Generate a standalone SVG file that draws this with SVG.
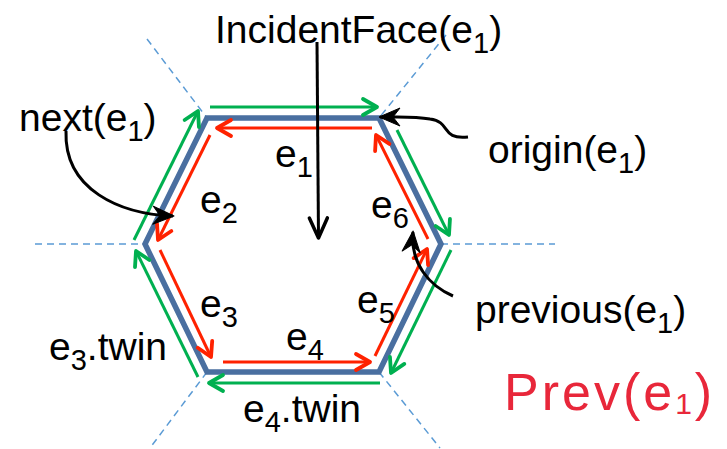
<svg xmlns="http://www.w3.org/2000/svg" width="727" height="449" viewBox="0 0 727 449">
<style>
.lbl{font-family:"Liberation Sans",Arial,sans-serif;font-size:39px;fill:#000}
.sub{font-size:29px}
.dash{stroke:#5b9bd5;stroke-width:1.5;stroke-dasharray:7 5;fill:none}
.hex{stroke:#4a6fa0;stroke-width:5.5;fill:none;stroke-linejoin:miter}
.red{stroke:#ff2200;stroke-width:3;fill:none;marker-end:url(#ar)}
.grn{stroke:#00b050;stroke-width:3;fill:none;marker-end:url(#ag)}
.blk{stroke:#000;stroke-width:3;fill:none}
.hand{font-family:"Liberation Sans",Arial,sans-serif;font-size:52px;fill:#e8273a;letter-spacing:3px}
</style>
<defs>
<marker id="ar" viewBox="-20 -12 24 24" refX="0" refY="0" markerWidth="24" markerHeight="24" markerUnits="userSpaceOnUse" orient="auto">
<path d="M-14,-8 L0,0 L-14,8" fill="none" stroke="#ff2200" stroke-width="3.8" stroke-linecap="round" stroke-linejoin="round"/>
</marker>
<marker id="ag" viewBox="-20 -12 24 24" refX="0" refY="0" markerWidth="24" markerHeight="24" markerUnits="userSpaceOnUse" orient="auto">
<path d="M-14,-8 L0,0 L-14,8" fill="none" stroke="#00b050" stroke-width="3.8" stroke-linecap="round" stroke-linejoin="round"/>
</marker>
<marker id="av" viewBox="-24 -12 28 24" refX="0" refY="0" markerWidth="28" markerHeight="24" markerUnits="userSpaceOnUse" orient="auto">
<path d="M-20,-9 L0,0 L-20,9" fill="none" stroke="#000" stroke-width="3.5" stroke-linecap="round" stroke-linejoin="round"/>
</marker>
<marker id="ab" viewBox="-24 -12 28 24" refX="0" refY="0" markerWidth="28" markerHeight="24" markerUnits="userSpaceOnUse" orient="auto">
<path d="M1,0 L-20,-9 L-13,0 L-20,9 Z" fill="#000" stroke="#000" stroke-width="1" stroke-linejoin="round"/>
</marker>
</defs>

<g id="guides">
<line class="dash" x1="147" y1="39" x2="207" y2="118"/>
<line class="dash" x1="446" y1="35" x2="379" y2="118"/>
<line class="dash" x1="35" y1="244" x2="145" y2="244"/>
<line class="dash" x1="441" y1="244" x2="555" y2="244"/>
<line class="dash" x1="207" y1="372" x2="150" y2="448"/>
<line class="dash" x1="379" y1="372" x2="440" y2="448"/>
</g>

<g id="face">
<polygon class="hex" points="207,118 379,118 441,244 379,372 207,372 145,244"/>
</g>

<g id="connectors">
<line class="red" x1="372" y1="128" x2="217" y2="128"/>
<line class="red" x1="210" y1="135" x2="158" y2="240"/>
<line class="red" x1="160" y1="250" x2="211" y2="357"/>
<line class="red" x1="223" y1="362" x2="370" y2="362"/>
<line class="red" x1="375" y1="356" x2="427" y2="249"/>
<line class="red" x1="428" y1="239" x2="376" y2="135"/>
<line class="grn" x1="210" y1="107" x2="377" y2="107"/>
<line class="grn" x1="397" y1="130" x2="449" y2="235"/>
<line class="grn" x1="451" y1="250" x2="391" y2="373"/>
<line class="grn" x1="380" y1="383" x2="209" y2="383"/>
<line class="grn" x1="198" y1="377" x2="136" y2="251"/>
<line class="grn" x1="134" y1="240" x2="198" y2="111"/>
<path class="blk" d="M317,42 L318.5,238" marker-end="url(#av)"/>
<path class="blk" d="M66,131 C64,190 120,214 173,216" marker-end="url(#ab)"/>
<path class="blk" d="M468,137 C440,140 452,122 430,119 C414,116 400,117 380,117" marker-end="url(#ab)"/>
<path class="blk" d="M453,296 C430,286 410,264 413,232" marker-end="url(#ab)"/>
</g>

<g id="labels">
<text class="lbl" x="215" y="43">IncidentFace(e<tspan class="sub" dy="10">1</tspan><tspan dy="-10">)</tspan></text>
<text class="lbl" x="19" y="131">next(e<tspan class="sub" dy="10">1</tspan><tspan dy="-10">)</tspan></text>
<text class="lbl" x="488" y="163">origin(e<tspan class="sub" dy="10">1</tspan><tspan dy="-10">)</tspan></text>
<text class="lbl" x="475" y="323">previous(e<tspan class="sub" dy="10">1</tspan><tspan dy="-10">)</tspan></text>
<text class="lbl" x="275" y="167">e<tspan class="sub" dy="10">1</tspan></text>
<text class="lbl" x="200" y="213">e<tspan class="sub" dy="10">2</tspan></text>
<text class="lbl" x="200" y="317">e<tspan class="sub" dy="10">3</tspan></text>
<text class="lbl" x="286" y="350">e<tspan class="sub" dy="10">4</tspan></text>
<text class="lbl" x="357" y="313">e<tspan class="sub" dy="10">5</tspan></text>
<text class="lbl" x="371" y="218">e<tspan class="sub" dy="10">6</tspan></text>
<text class="lbl" x="49" y="360">e<tspan class="sub" dy="10">3</tspan><tspan dy="-10">.twin</tspan></text>
<text class="lbl" x="243" y="422">e<tspan class="sub" dy="10">4</tspan><tspan dy="-10">.twin</tspan></text>
</g>

<g id="note">
<text class="hand" x="504" y="410">Prev(e<tspan font-size="30" dy="4">1</tspan><tspan dy="-4">)</tspan></text>
</g>
</svg>
